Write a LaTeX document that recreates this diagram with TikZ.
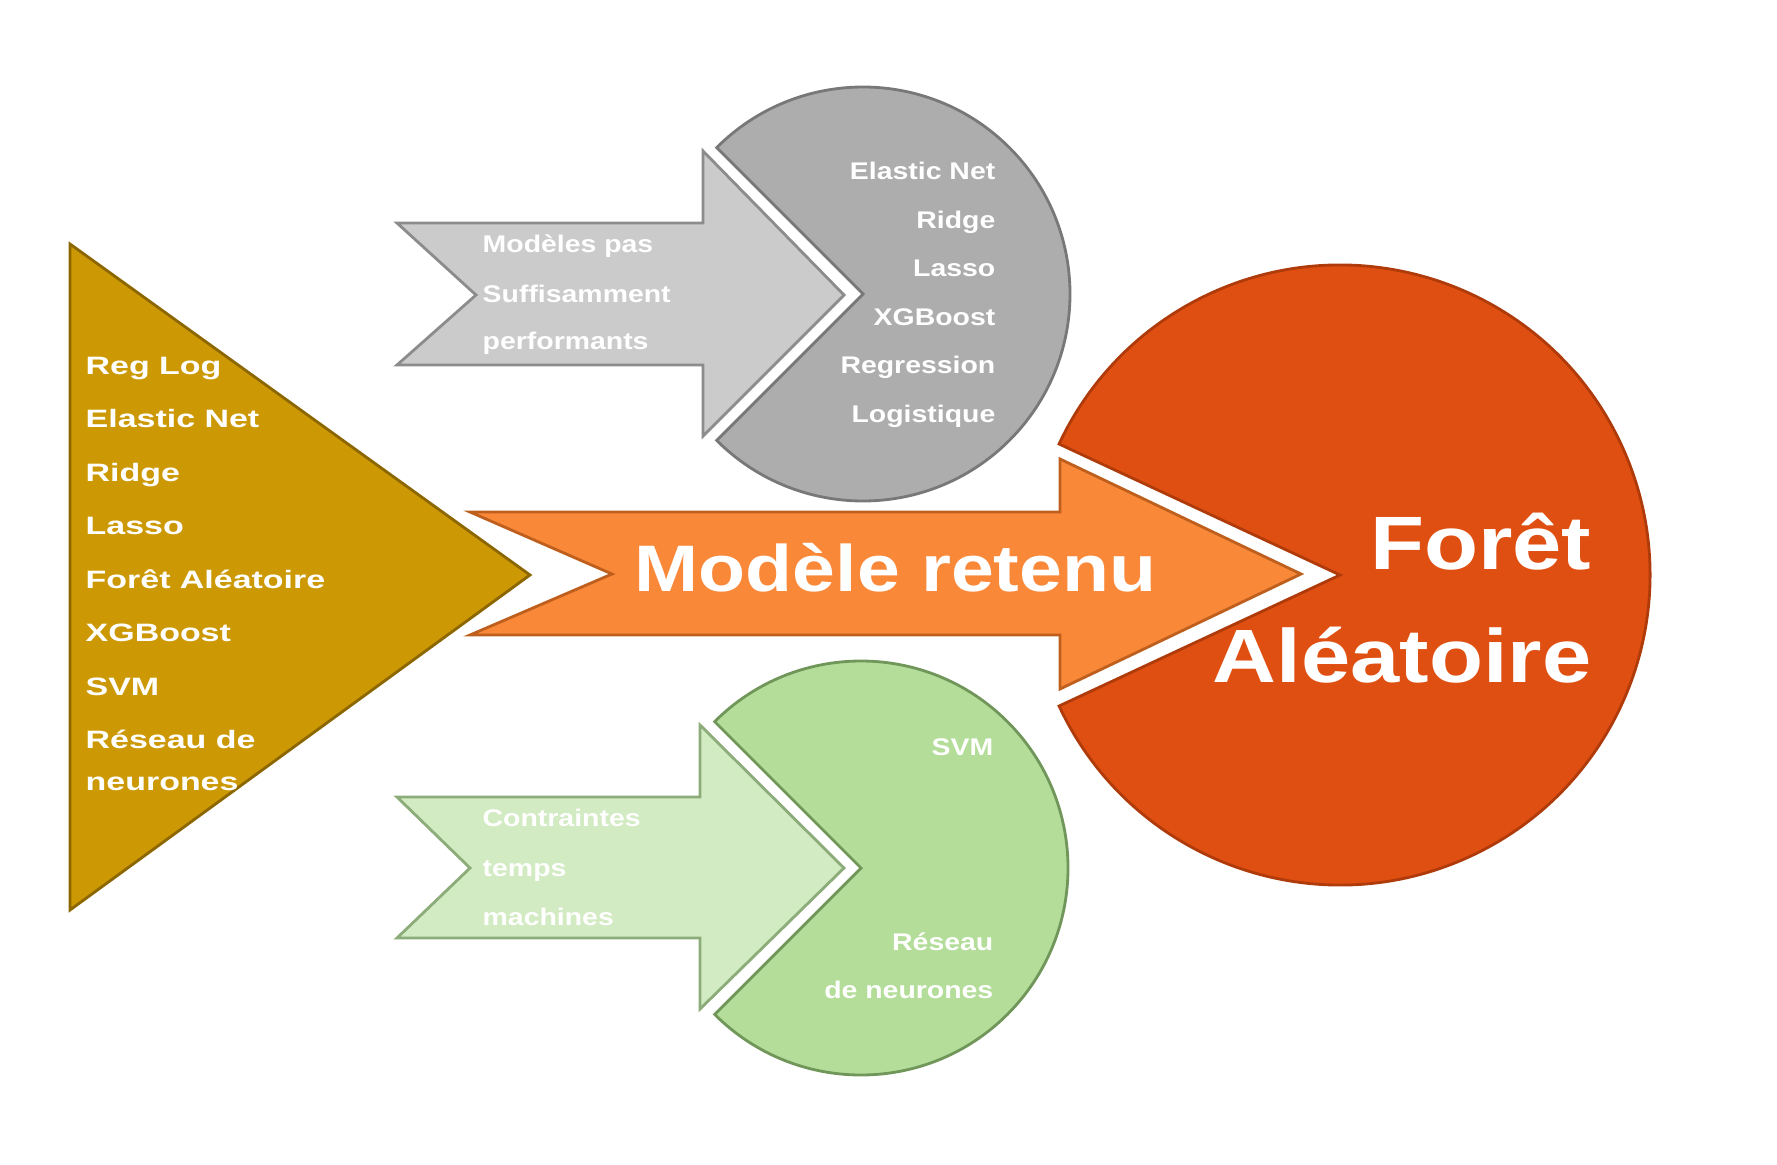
\documentclass[tikz,border=0pt]{standalone}
\usepackage{fontspec}
\usepackage{xcolor}
\usepackage{tikz}
\usetikzlibrary{positioning}
\setmainfont{Liberation Sans}
\newfontfamily\trifont[FakeStretch=1.35]{Liberation Sans}
\newfontfamily\midfont[FakeStretch=1.18]{Liberation Sans}
\newfontfamily\bigfont[FakeStretch=1.17]{Liberation Sans}

\definecolor{goldfill}{RGB}{204,153,4}
\definecolor{goldedge}{RGB}{140,102,0}
\definecolor{grayarrowfill}{RGB}{203,203,203}
\definecolor{grayarrowedge}{RGB}{140,140,140}
\definecolor{graypiefill}{RGB}{173,173,173}
\definecolor{graypieedge}{RGB}{120,120,120}
\definecolor{orangearrowfill}{RGB}{249,136,57}
\definecolor{orangearrowedge}{RGB}{190,95,30}
\definecolor{orangepiefill}{RGB}{224,79,18}
\definecolor{orangepieedge}{RGB}{175,58,10}
\definecolor{greenarrowfill}{RGB}{210,235,194}
\definecolor{greenarrowedge}{RGB}{140,172,122}
\definecolor{greenpiefill}{RGB}{179,221,153}
\definecolor{greenpieedge}{RGB}{112,150,90}

\tikzstyle{triangle} = [fill=goldfill, draw=goldedge, line width=0.8pt]
\tikzstyle{grayarrow} = [fill=grayarrowfill, draw=grayarrowedge, line width=0.8pt]
\tikzstyle{graypie} = [fill=graypiefill, draw=graypieedge, line width=0.8pt]
\tikzstyle{orangearrow} = [fill=orangearrowfill, draw=orangearrowedge, line width=0.8pt]
\tikzstyle{orangepie} = [fill=orangepiefill, draw=orangepieedge, line width=0.8pt]
\tikzstyle{greenarrow} = [fill=greenarrowfill, draw=greenarrowedge, line width=0.8pt]
\tikzstyle{greenpie} = [fill=greenpiefill, draw=greenpieedge, line width=0.8pt]
\tikzstyle{listtext} = [anchor=base west, inner sep=0pt, text=white,
    font=\trifont\bfseries\fontsize{7.15}{8}\selectfont]
\tikzstyle{arrowtext} = [anchor=base west, inner sep=0pt, text=white,
    font=\midfont\bfseries\fontsize{6.85}{8}\selectfont]
\tikzstyle{pietext} = [anchor=base east, inner sep=0pt, text=white,
    font=\midfont\bfseries\fontsize{6.85}{8}\selectfont]
\tikzstyle{keptext} = [inner sep=0pt, text=white,
    font=\bigfont\bfseries\fontsize{18.7}{20}\selectfont]
\tikzstyle{foresttext} = [anchor=base east, inner sep=0pt, text=white,
    font=\bigfont\bfseries\fontsize{21.5}{24}\selectfont]

\begin{document}
\begin{tikzpicture}[x=0.01cm, y=-0.01cm]
        \useasboundingbox (0,0) rectangle (1777,1164);

        % Centres of the pies
        \coordinate (graycentre) at (863,294);
        \coordinate (orangecentre) at (1340,575);
        \coordinate (greencentre) at (861,868);

        % Shapes
        \filldraw [triangle] (70,244) -- (70,910) -- (530,575) -- cycle;
        \filldraw [grayarrow] (397,223) -- (703,223) -- (703,151) -- (844,295)
            -- (703,436) -- (703,365) -- (397,365) -- (476,295) -- cycle;
        \filldraw [orangearrow] (470,512) -- (1060,512) -- (1060,459) -- (1301,574)
            -- (1060,689) -- (1060,635) -- (470,635) -- (612,574) -- cycle;
        \filldraw [greenarrow] (397,797) -- (700,797) -- (700,725) -- (844,868)
            -- (700,1009) -- (700,938) -- (397,938) -- (470,868) -- cycle;
        \filldraw [graypie] (graycentre) -- ++(135:207)
            arc [start angle=135, end angle=-135, radius=207] -- cycle;
        \filldraw [orangepie] (orangecentre) -- ++(155:310)
            arc [start angle=155, end angle=-155, radius=310] -- cycle;
        \filldraw [greenpie] (greencentre) -- ++(135:207)
            arc [start angle=135, end angle=-135, radius=207] -- cycle;

        % Texts of the triangle
        \foreach \name/\txt [count=\i from 0] in {reglog/Reg Log, elastic/Elastic Net,
            ridge/Ridge, lasso/Lasso, foret/Forêt Aléatoire, xgboost/XGBoost,
            svm/SVM, reseau/Réseau de}
            \node [listtext] (\name) at (85,{374+53.5*\i}) {\txt};
        \node [listtext] (neurones) at (85,790) {neurones};

        % Texts of the arrows
        \node [arrowtext] (modeles) at (482,253) {Modèles pas};
        \node [arrowtext] (suffis) at (482,302) {Suffisamment};
        \node [arrowtext] (perf) at (482,350) {performants};
        \node [arrowtext] (contraintes) at (482,826) {Contraintes};
        \node [arrowtext] (temps) at (482,876) {temps};
        \node [arrowtext] (machines) at (482,925) {machines};
        \node [keptext, anchor=base west] (retenu) at (634,591) {Modèle retenu};

        % Texts of the pies
        \foreach \name/\txt [count=\i from 0] in {gelastic/Elastic Net, gridge/Ridge,
            glasso/Lasso, gxgboost/XGBoost, gregression/Regression, glogistique/Logistique}
            \node [pietext] (\name) at (996,{180+48.4*\i}) {\txt};
        \node [pietext] (gsvm) at (994,755) {SVM};
        \node [pietext] (greseau) at (994,950) {Réseau};
        \node [pietext] (gneurones) at (994,998) {de neurones};
        \node [foresttext] (kforet) at (1592,569) {Forêt};
        \node [foresttext] (kaleatoire) at (1592,682) {Aléatoire};
    \end{tikzpicture}
\end{document}
